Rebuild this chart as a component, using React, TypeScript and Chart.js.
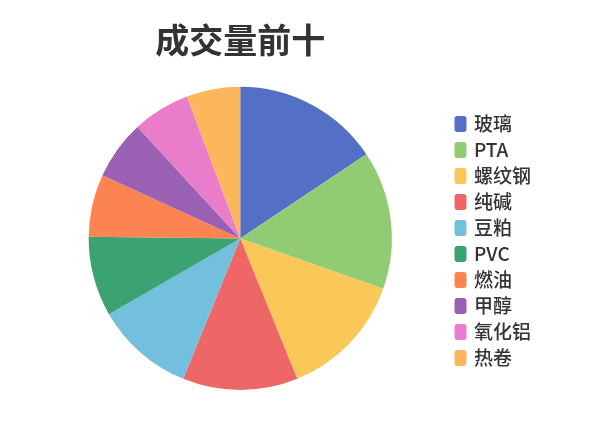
import React, { useEffect, useRef } from "react";
import { Chart, registerables } from "chart.js";

Chart.register(...registerables);

const titleText = "成交量前十";
const categories = ["玻璃", "PTA", "螺纹钢", "纯碱", "豆粕", "PVC", "燃油", "甲醇", "氧化铝", "热卷"];
const volumes = [56.3, 53.1, 48.5, 44.2, 37.9, 30.6, 24.0, 22.7, 22.1, 20.6];
const colors = [
  "#5470c6",
  "#91cc75",
  "#fac858",
  "#ee6666",
  "#73c0de",
  "#3ba272",
  "#fc8452",
  "#9a60b4",
  "#ea7ccc",
  "#fcb65c",
];

const FONT = "'Noto Sans CJK SC', 'Noto Sans', sans-serif";

export default function App() {
  const ref = useRef<HTMLCanvasElement | null>(null);

  useEffect(() => {
    if (!ref.current) return;
    const chart = new Chart(ref.current, {
      type: "pie",
      data: {
        labels: categories,
        datasets: [
          {
            data: volumes,
            backgroundColor: colors,
            borderWidth: 0,
            hoverOffset: 0,
          },
        ],
      },
      options: {
        animation: false,
        responsive: true,
        maintainAspectRatio: false,
        layout: { padding: { left: 31, right: 59, top: 0, bottom: 38 } },
        plugins: {
          tooltip: { enabled: false },
          title: {
            display: true,
            text: titleText,
            fullSize: false,
            color: "#333",
            font: { family: FONT, size: 34, weight: "bold", lineHeight: 1.2 },
            padding: { top: 20, bottom: 26 },
          },
          legend: {
            display: true,
            position: "right",
            fullSize: false,
            title: { display: true, text: "", font: { size: 5, lineHeight: 1 }, padding: 0 },
            labels: {
              boxWidth: 8,
              boxHeight: 12,
              padding: 7,
              color: "#333",
              font: { family: FONT, size: 19, weight: "500" },
              useBorderRadius: true,
              borderRadius: 1,
              generateLabels: () =>
                categories.map((c, i) => ({
                  text: c,
                  fillStyle: colors[i],
                  strokeStyle: colors[i],
                  lineWidth: 4,
                  fontColor: "#333",
                  borderRadius: 1,
                  hidden: false,
                  index: i,
                })),
            },
          },
        },
      },
    });
    return () => chart.destroy();
  }, []);

  return (
    <div style={{ position: "fixed", left: 0, top: 0, width: 600, height: 428, background: "#fff" }}>
      <canvas ref={ref} />
    </div>
  );
}
